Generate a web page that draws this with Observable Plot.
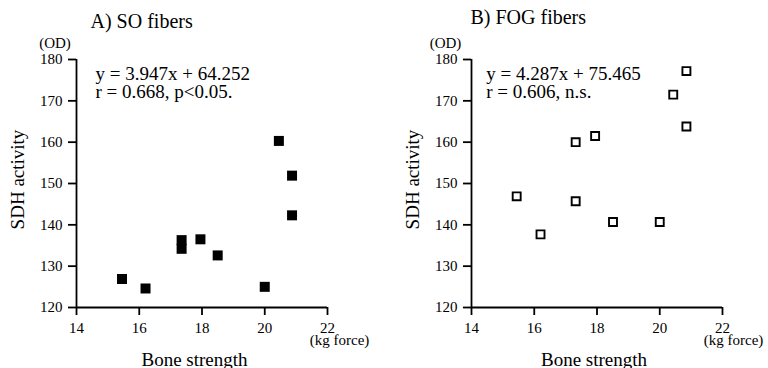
<!DOCTYPE html>
<html>
<head>
<meta charset="utf-8">
<script src="https://cdn.jsdelivr.net/npm/d3@7"></script>
<script src="https://cdn.jsdelivr.net/npm/@observablehq/plot@0.6"></script>
<style>
  html, body { margin: 0; padding: 0; background: #fff; }
  #wrap { position: relative; width: 768px; height: 368px; overflow: hidden; }
  #left, #right { position: absolute; top: 0; }
  #left { left: 0; }
  #right { left: 384px; }
  #wrap svg, #wrap svg text, #wrap svg g { font-family: "Liberation Serif", "Times New Roman", serif !important; }
</style>
</head>
<body>
<div id="wrap"><div id="left"></div><div id="right"></div></div>
<script>
// ---- data ----
const xTicks = [14, 16, 18, 20, 22];
const yTicks = [120, 130, 140, 150, 160, 170, 180];
const xDomain = [14, 22];
const yDomain = [120, 180];

// A) SO fibers (filled squares)
const soX = [15.45, 16.2, 17.35, 17.35, 17.95, 18.5, 20.0, 20.45, 20.87, 20.87];
const soY = [126.9, 124.6, 136.3, 134.2, 136.5, 132.6, 125.0, 160.3, 151.9, 142.3];

// B) FOG fibers (open squares)
const fogX = [15.44, 16.2, 17.32, 17.32, 17.94, 18.51, 20.0, 20.43, 20.85, 20.85];
const fogY = [146.9, 137.7, 145.7, 160.0, 161.5, 140.7, 140.7, 171.5, 177.2, 163.8];

const titles = ["A) SO fibers", "B) FOG fibers"];
const equations = ["y = 3.947x + 64.252", "y = 4.287x + 75.465"];
const stats = ["r = 0.668, p<0.05.", "r = 0.606, n.s."];
const yLabel = "SDH activity";
const xLabel = "Bone strength";
const yUnit = "(OD)";
const xUnit = "(kg force)";

const FONT = "Liberation Serif";

function panel(i, opts) {
  const xs = i === 0 ? soX : fogX;
  const ys = i === 0 ? soY : fogY;
  const dotMark = i === 0
    ? Plot.dot(xs, {x: xs, y: ys, symbol: "square", r: 5.64, fill: "black", stroke: "none"})
    : Plot.dot(xs, {x: xs, y: ys, symbol: "square", r: 4.5, fill: "white", stroke: "black", strokeWidth: 1.9});
  const T = (text, o) => Plot.text([text], {text: d => d, fontFamily: FONT, fill: "black", ...o});
  return Plot.plot({
    width: 384,
    height: 368,
    marginLeft: opts.ml,
    marginRight: opts.mr,
    marginTop: 59,
    marginBottom: 61,
    style: {fontFamily: FONT, fontSize: "15px", background: "white", color: "black", overflow: "visible"},
    x: {domain: xDomain},
    y: {domain: yDomain},
    marks: [
      Plot.axisX({ticks: xTicks, tickSize: 8, tickPadding: 7, label: null, fontSize: 15, strokeWidth: 1.8, fontFamily: FONT}),
      Plot.axisY({ticks: yTicks, tickSize: 8, tickPadding: 6, label: null, fontSize: 15, strokeWidth: 1.8, fontFamily: FONT}),
      Plot.ruleX([xDomain[0]], {stroke: "black", strokeWidth: 1.8}),
      Plot.ruleY([yDomain[0]], {stroke: "black", strokeWidth: 1.8}),
      dotMark,
      T(titles[i], {frameAnchor: "top-left", textAnchor: "start", lineAnchor: "bottom", dx: opts.titleDx, dy: opts.titleDy, fontSize: 20}),
      T(yUnit, {frameAnchor: "top-left", textAnchor: "middle", lineAnchor: "bottom", dx: opts.odDx, dy: -12, fontSize: 15}),
      T(equations[i], {frameAnchor: "top-left", textAnchor: "start", lineAnchor: "bottom", dx: opts.eqDx, dy: 20, fontSize: 19}),
      T(stats[i], {frameAnchor: "top-left", textAnchor: "start", lineAnchor: "bottom", dx: opts.eqDx, dy: 38, fontSize: 19}),
      T(xUnit, {frameAnchor: "bottom-right", textAnchor: "middle", lineAnchor: "bottom", dx: opts.kgDx, dy: 37, fontSize: 15}),
      T(xLabel, {frameAnchor: "bottom", textAnchor: "middle", lineAnchor: "bottom", dx: opts.bsDx, dy: 58, fontSize: 19}),
      T(yLabel, {frameAnchor: "left", textAnchor: "middle", lineAnchor: "bottom", rotate: -90, dx: opts.ylDx, dy: -4, fontSize: 19})
    ]
  });
}

document.getElementById("left").appendChild(panel(0, {ml: 76, mr: 57, titleDx: 14, titleDy: -32, odDx: -21.5, eqDx: 19, kgDx: 12, bsDx: -7.5, ylDx: -53}));
document.getElementById("right").appendChild(panel(1, {ml: 87, mr: 46, titleDx: -1, titleDy: -35.5, odDx: -26, eqDx: 14.7, kgDx: 11, bsDx: -3, ylDx: -53}));
</script>
</body>
</html>
